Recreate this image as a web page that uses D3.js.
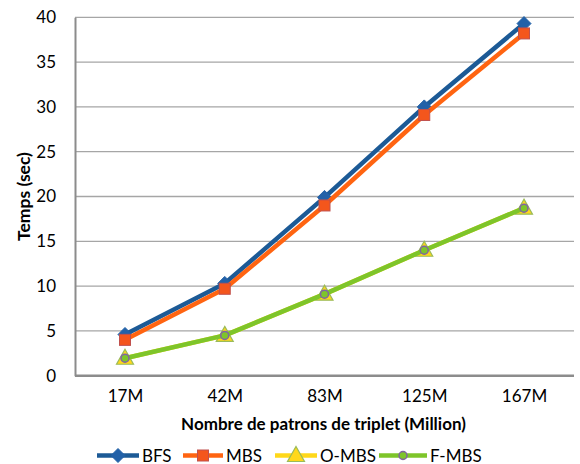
<!DOCTYPE html>
<html><head><meta charset="utf-8">
<script src="https://cdn.jsdelivr.net/npm/d3@7"></script>
<style>body{margin:0;background:#fff}svg{display:block}text{font-family:Lato,"Open Sans",sans-serif;fill:#000}</style>
</head><body><svg id="c" width="580" height="464"></svg>
<script>
const categories = ["17M","42M","83M","125M","167M"];
const bfs  = [4.6, 10.3, 19.9, 30.0, 39.3];
const mbs  = [4.0, 9.7, 19.0, 29.1, 38.2];
const ombs = [1.95, 4.5, 9.1, 14.0, 18.7];
const fmbs = [1.95, 4.5, 9.1, 14.0, 18.7];
const yTicks = [0,5,10,15,20,25,30,35,40];
const seriesNames = ["BFS","MBS","O-MBS","F-MBS"];

const svg = d3.select("#c");
const m = {l:75, r:574, t:17.3, b:375.7};
const x = d3.scalePoint().domain(categories).range([m.l+50, m.r-50]);
const y = d3.scaleLinear().domain([0,40]).range([m.b, m.t]);

// grid
svg.append("g").selectAll("line").data(yTicks.filter(d=>d>0)).join("line")
  .attr("x1",m.l).attr("x2",m.r).attr("y1",d=>y(d)).attr("y2",d=>y(d))
  .attr("stroke","#a6a6a6").attr("stroke-width",1.3);
// axes
const ya = svg.append("g").attr("transform",`translate(${m.l},0)`)
  .call(d3.axisLeft(y).tickValues(yTicks).tickSize(0).tickPadding(19));
ya.select(".domain").attr("stroke","#8c8c8c").attr("stroke-width",2);
ya.selectAll("text").attr("font-size",17).style("font-family","Lato,'Open Sans',sans-serif");
const xa = svg.append("g").attr("transform",`translate(0,${m.b})`)
  .call(d3.axisBottom(x).tickSize(0).tickPadding(14));
xa.select(".domain").attr("stroke","#8c8c8c").attr("stroke-width",2.5).attr("d",`M${m.l},0H${m.r}`);
xa.selectAll("text").attr("font-size",17).style("font-family","Lato,'Open Sans',sans-serif");

svg.append("text").attr("x",(m.l+m.r)/2-1).attr("y",429.5).attr("text-anchor","middle")
  .attr("font-size",17).attr("font-weight","bold").text("Nombre de patrons de triplet (Million)");
svg.append("text").attr("transform",`translate(30,${(m.t+m.b)/2}) rotate(-90)`).attr("text-anchor","middle")
  .attr("font-size",17.5).attr("font-weight","bold").text("Temps (sec)");

const styles = [
  {data:bfs, color:"#1c5a96", marker:"diamond", fill:"#2261a8", stroke:"#2261a8"},
  {data:mbs, color:"#ff6411", marker:"square", fill:"#f4561c", stroke:"#c0504d"},
  {data:ombs, color:"#ffd81a", marker:"triangle", fill:"#ffd81a", stroke:"#9bbb59"},
  {data:fmbs, color:"#7ec52a", marker:"circle", fill:"#7ec52a", stroke:"#8064a2"}
];
const line = d3.line().x((d,i)=>x(categories[i])).y(d=>y(d));

function marker(g, type, cx, cy, s){
  if(type==="diamond") g.append("path").attr("d",`M${cx},${cy-7}L${cx+7},${cy}L${cx},${cy+7}L${cx-7},${cy}Z`).attr("fill",s.fill).attr("stroke",s.stroke);
  if(type==="square") g.append("rect").attr("x",cx-5.5).attr("y",cy-5.5).attr("width",11).attr("height",11).attr("fill",s.fill).attr("stroke",s.stroke);
  if(type==="triangle") g.append("path").attr("d",`M${cx},${cy-9}L${cx+8.5},${cy+6}L${cx-8.5},${cy+6}Z`).attr("fill",s.fill).attr("stroke",s.stroke).attr("stroke-width",1.2);
  if(type==="circle") g.append("circle").attr("cx",cx).attr("cy",cy).attr("r",4).attr("fill",s.fill).attr("stroke",s.stroke).attr("stroke-width",1.5);
}

styles.forEach(s=>{
  svg.append("path").datum(s.data).attr("d",line).attr("fill","none")
    .attr("stroke",s.color).attr("stroke-width",4.5).attr("stroke-linejoin","round");
  const g = svg.append("g");
  s.data.forEach((v,i)=>marker(g, s.marker, x(categories[i]), y(v), s));
});

// legend
const legX = [97, 183, 275, 379];
const legW = [42, 40, 42, 48];
seriesNames.forEach((n,i)=>{
  const s = styles[i];
  const g = svg.append("g");
  const ly = 455.5;
  g.append("line").attr("x1",legX[i]).attr("x2",legX[i]+legW[i]).attr("y1",ly).attr("y2",ly)
    .attr("stroke",s.color).attr("stroke-width",4.5);
  marker(g, s.marker, legX[i]+legW[i]/2, ly, s);
  g.append("text").attr("x",legX[i]+legW[i]+3).attr("y",ly+6).attr("font-size",17).text(n);
});
</script></body></html>
